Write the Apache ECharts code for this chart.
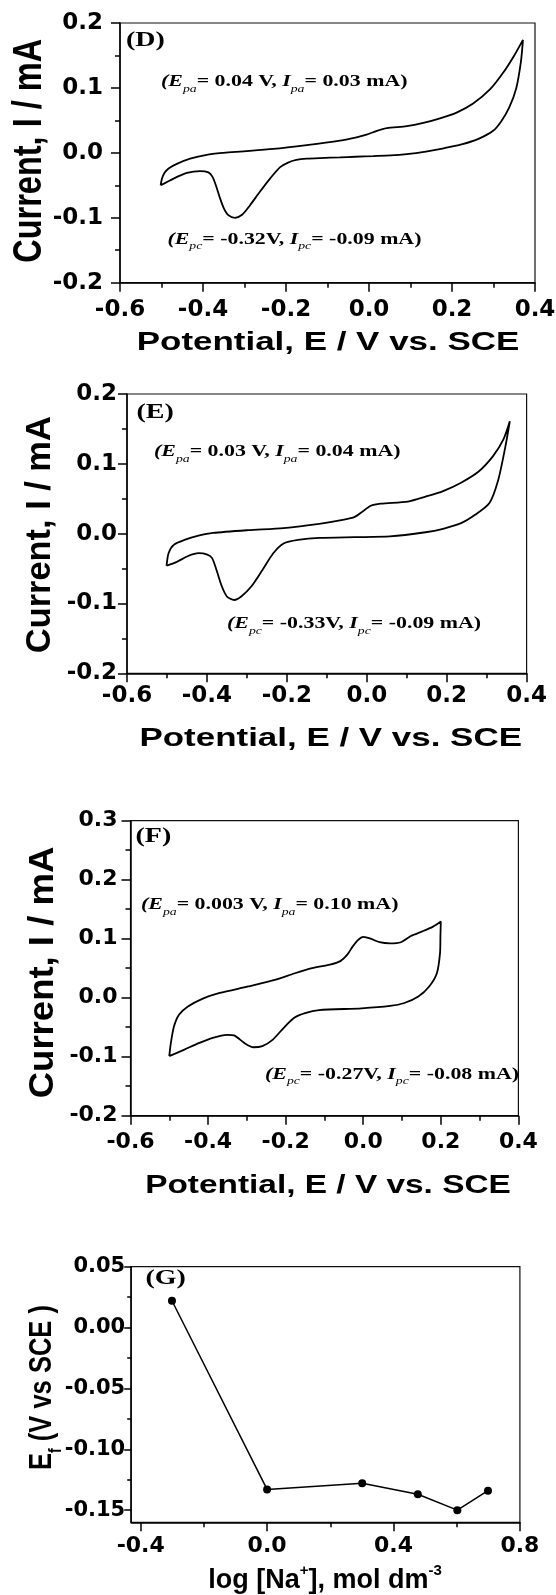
<!DOCTYPE html>
<html>
<head>
<meta charset="utf-8">
<script src="https://cdn.jsdelivr.net/npm/echarts@6/dist/echarts.min.js"></script>
<style>
  html, body { margin: 0; padding: 0; background: #fff; }
  #chart { width: 556px; height: 1595px; }
</style>
</head>
<body>
<div id="chart"></div>
<script>
// panel D: cyclic voltammogram, forward branch then return branch
var potD = [-0.502,-0.499,-0.493,-0.483,-0.463,-0.431,-0.391,-0.350,-0.311,-0.231,
            -0.150,-0.070,-0.030,-0.006,0.019,0.043,0.091,0.131,0.171,0.211,
            0.251,0.292,0.324,0.350,0.371,
            0.366,0.355,0.338,0.318,0.299,0.265,0.223,0.180,0.137,0.091,
            0.052,0.010,-0.033,-0.070,-0.118,-0.150,-0.175,-0.195,-0.214,-0.239,
            -0.263,-0.287,-0.305,-0.323,-0.339,-0.350,-0.360,-0.369,-0.377,-0.387,
            -0.407,-0.439,-0.472,-0.502];
var curD = [-0.050,-0.040,-0.031,-0.024,-0.017,-0.009,-0.003,0.000,0.002,0.006,
            0.012,0.019,0.024,0.028,0.034,0.038,0.041,0.046,0.053,0.062,
            0.076,0.098,0.124,0.150,0.174,
            0.140,0.100,0.070,0.048,0.034,0.022,0.013,0.007,0.002,-0.002,
            -0.004,-0.005,-0.006,-0.007,-0.008,-0.009,-0.011,-0.015,-0.022,-0.040,
            -0.060,-0.081,-0.095,-0.100,-0.096,-0.085,-0.068,-0.050,-0.037,-0.030,
            -0.028,-0.031,-0.040,-0.050];

// panel E
var potE = [-0.501,-0.496,-0.483,-0.456,-0.421,-0.385,-0.297,-0.208,-0.119,-0.057,
            -0.030,-0.012,0.010,0.035,0.103,0.147,0.191,0.236,0.280,0.316,
            0.342,0.358,
            0.347,0.329,0.307,0.271,0.236,0.191,0.147,0.058,-0.030,-0.119,
            -0.172,-0.208,-0.234,-0.261,-0.288,-0.314,-0.332,-0.350,-0.363,-0.376,
            -0.387,-0.399,-0.421,-0.447,-0.474,-0.501];
var curE = [-0.046,-0.028,-0.016,-0.009,-0.003,0.001,0.005,0.008,0.014,0.020,
            0.024,0.031,0.040,0.043,0.046,0.053,0.061,0.073,0.089,0.111,
            0.135,0.161,
            0.125,0.077,0.044,0.027,0.015,0.007,0.002,-0.004,-0.005,-0.006,
            -0.009,-0.014,-0.028,-0.052,-0.075,-0.090,-0.095,-0.090,-0.075,-0.052,
            -0.035,-0.030,-0.028,-0.032,-0.040,-0.046];

// panel F
var potF = [-0.500,-0.496,-0.488,-0.475,-0.452,-0.415,-0.370,-0.297,-0.223,-0.178,
            -0.132,-0.086,-0.059,-0.041,-0.027,-0.013,0.000,0.019,0.042,0.069,
            0.097,0.124,0.151,0.179,0.200,
            0.199,0.198,0.190,0.170,0.142,0.106,0.069,-0.004,-0.114,-0.150,-0.178,
            -0.205,-0.233,-0.260,-0.283,-0.306,-0.333,-0.351,-0.388,-0.424,-0.461,
            -0.500];
var curF = [-0.099,-0.077,-0.049,-0.029,-0.015,-0.002,0.008,0.019,0.031,0.041,
            0.050,0.056,0.062,0.073,0.087,0.098,0.103,0.100,0.094,0.092,
            0.094,0.105,0.112,0.120,0.129,
            0.105,0.076,0.042,0.019,0.002,-0.009,-0.014,-0.018,-0.021,-0.026,-0.034,
            -0.051,-0.071,-0.082,-0.084,-0.077,-0.064,-0.063,-0.068,-0.077,-0.088,
            -0.099];

// panel G: formal potential vs log [Na+]
var logNa = [-0.301, 0.000, 0.301, 0.477, 0.602, 0.699];
var potEf = [0.022, -0.133, -0.128, -0.137, -0.150, -0.134];

var gTickX = [-0.4, 0.0, 0.4, 0.8];
var gMinorX = [-0.2, 0.2, 0.6];
var gTickY = [-0.15, -0.10, -0.05, 0.00, 0.05];
var gMinorY = [-0.125, -0.075, -0.025, 0.025];

function pairs(xs, ys) {
    return xs.map(function (x, i) { return [x, ys[i]]; });
}
function fmt(d) {
    return function (v) {
        if (Math.abs(v) < 1e-9) v = 0;
        return v.toFixed(d);
    };
}

var black = '#000';
var labelFont = { fontFamily: 'DejaVu Sans', fontWeight: 'bold', color: black };

function cvX(grid, margin, size) {
    return {
        type: 'value', gridIndex: grid, position: 'bottom', min: -0.6, max: 0.4, interval: 0.2,
        axisLine: { show: true, onZero: false, lineStyle: { color: black, width: 1.5 } },
        axisTick: { show: true, length: 9, lineStyle: { color: black, width: 1.5 } },
        minorTick: { show: true, splitNumber: 2, length: 5, lineStyle: { color: black, width: 1.5 } },
        splitLine: { show: false },
        axisLabel: Object.assign({ fontSize: size, margin: margin, formatter: fmt(1), showMinLabel: true, showMaxLabel: true }, labelFont)
    };
}
function cvY(grid, max, margin, size) {
    return {
        type: 'value', gridIndex: grid, position: 'left', min: -0.2, max: max, interval: 0.1,
        axisLine: { show: true, onZero: false, lineStyle: { color: black, width: 1.5 } },
        axisTick: { show: true, length: 9, lineStyle: { color: black, width: 1.5 } },
        minorTick: { show: true, splitNumber: 2, length: 5, lineStyle: { color: black, width: 1.5 } },
        splitLine: { show: false },
        axisLabel: Object.assign({ fontSize: size, margin: margin, formatter: fmt(1), showMinLabel: true, showMaxLabel: true }, labelFont)
    };
}
function box(left, top, width, height) {
    return {
        left: left, top: top, width: width, height: height,
        show: true, borderColor: '#111', borderWidth: 1.2,
        containLabel: false, outerBoundsMode: 'none'
    };
}

// text helpers (the original figure is stretched sideways, hence the scales)
function sansText(text, x, y, size, sx, sy, rot) {
    return {
        type: 'text', x: x, y: y, rotation: rot || 0, scaleX: sx, scaleY: sy, silent: true,
        style: {
            text: text, fill: black, fontFamily: 'Liberation Sans', fontWeight: 'bold', fontSize: size,
            align: 'center', verticalAlign: 'middle'
        }
    };
}
function panelTag(text, x, y) {
    return {
        type: 'text', x: x, y: y, scaleX: 1.4, silent: true,
        style: {
            text: text, fill: black, fontFamily: 'Liberation Serif', fontWeight: 'bold', fontSize: 20,
            align: 'left', verticalAlign: 'middle'
        }
    };
}
var noteRich = {
    p: { fontFamily: 'Liberation Serif', fontWeight: 'bold', fontSize: 17.5, lineHeight: 26, color: black },
    i: { fontFamily: 'Liberation Serif', fontWeight: 'bold', fontStyle: 'italic', fontSize: 17.5, lineHeight: 26, color: black },
    s: { fontFamily: 'Liberation Serif', fontStyle: 'italic', fontSize: 11, lineHeight: 26, verticalAlign: 'bottom', color: black }
};
function note(sub, v1, v2, x, y) {
    return {
        type: 'text', x: x, y: y, scaleX: 1.25, silent: true,
        style: {
            text: '{i|(E}{s|' + sub + '}{p|= ' + v1 + ', }{i|I}{s|' + sub + '}{p|= ' + v2 + ')}',
            rich: noteRich, fill: black, align: 'left', verticalAlign: 'middle'
        }
    };
}

var chart = echarts.init(document.getElementById('chart'), null, { renderer: 'canvas' });

var option = {
    animation: false,
    backgroundColor: '#fff',
    grid: [
        box(120, 23, 415, 259.7),
        box(127, 394, 399.6, 279.3),
        box(130.5, 820.7, 387.9, 295),
        box(131.2, 1266.7, 388.7, 255.6)
    ],
    xAxis: [
        cvX(0, 16, 23),
        cvX(1, 11, 23),
        cvX(2, 16, 22),
        {
            type: 'value', gridIndex: 3, position: 'bottom', min: -0.43, max: 0.8,
            axisLine: { show: true, onZero: false, lineStyle: { color: black, width: 1.5 } },
            axisTick: { show: true, length: 9, customValues: gTickX, lineStyle: { color: black, width: 1.5 } },
            splitLine: { show: false },
            axisLabel: Object.assign({ fontSize: 22, margin: 13, customValues: gTickX, formatter: fmt(1) }, labelFont)
        },
        {
            // minor ticks of panel G, same scale as the main axis
            type: 'value', gridIndex: 3, position: 'bottom', offset: 0, min: -0.43, max: 0.8,
            axisLine: { show: false, onZero: false },
            axisTick: { show: true, length: 5, customValues: gMinorX, lineStyle: { color: black, width: 1.5 } },
            splitLine: { show: false },
            axisLabel: { show: false }
        }
    ],
    yAxis: [
        cvY(0, 0.2, 17, 23),
        cvY(1, 0.2, 10, 23),
        cvY(2, 0.3, 13, 22),
        {
            type: 'value', gridIndex: 3, position: 'left', min: -0.16, max: 0.05,
            axisLine: { show: true, onZero: false, lineStyle: { color: black, width: 1.5 } },
            axisTick: { show: true, length: 7, customValues: gTickY, lineStyle: { color: black, width: 1.5 } },
            splitLine: { show: false },
            axisLabel: Object.assign({ fontSize: 21, margin: 6, customValues: gTickY, formatter: fmt(2) }, labelFont)
        },
        {
            type: 'value', gridIndex: 3, position: 'left', offset: 0, min: -0.16, max: 0.05,
            axisLine: { show: false, onZero: false },
            axisTick: { show: true, length: 4, customValues: gMinorY, lineStyle: { color: black, width: 1.5 } },
            splitLine: { show: false },
            axisLabel: { show: false }
        }
    ],
    series: [
        {
            name: 'D', type: 'line', xAxisIndex: 0, yAxisIndex: 0, data: pairs(potD, curD),
            showSymbol: false, symbol: 'none', smooth: 0.25, lineStyle: { color: black, width: 1.8 }
        },
        {
            name: 'E', type: 'line', xAxisIndex: 1, yAxisIndex: 1, data: pairs(potE, curE),
            showSymbol: false, symbol: 'none', smooth: 0.25, lineStyle: { color: black, width: 1.8 }
        },
        {
            name: 'F', type: 'line', xAxisIndex: 2, yAxisIndex: 2, data: pairs(potF, curF),
            showSymbol: false, symbol: 'none', smooth: 0.25, lineStyle: { color: black, width: 1.8 }
        },
        {
            name: 'G', type: 'line', xAxisIndex: 3, yAxisIndex: 3, data: pairs(logNa, potEf),
            symbol: 'circle', symbolSize: 8, itemStyle: { color: black },
            lineStyle: { color: black, width: 1.5 }
        }
    ],
    graphic: {
        elements: [
            // axis titles
            sansText('Current, I / mA', 29.2, 150.8, 32.5, 1, 1.27, Math.PI / 2),
            sansText('Potential, E / V vs. SCE', 328, 342.8, 25.5, 1.37, 1),
            sansText('Current, I / mA', 41, 534.7, 34.4, 1, 1.0, Math.PI / 2),
            sansText('Potential, E / V vs. SCE', 330.7, 739.4, 25.5, 1.37, 1),
            sansText('Current, I / mA', 43.6, 972.5, 36.5, 1, 0.97, Math.PI / 2),
            sansText('Potential, E / V vs. SCE', 328, 1186, 25.5, 1.31, 1),
            {
                type: 'text', x: 42.6, y: 1387.5, rotation: Math.PI / 2, scaleY: 1.25, silent: true,
                style: {
                    text: '{m|E}{s|f}{m| (V vs SCE )}', fill: black, align: 'center', verticalAlign: 'middle',
                    rich: {
                        m: { fontFamily: 'Liberation Sans', fontWeight: 'bold', fontSize: 25.5, lineHeight: 36, color: black },
                        s: { fontFamily: 'Liberation Sans', fontWeight: 'bold', fontSize: 14, lineHeight: 36, verticalAlign: 'bottom', color: black }
                    }
                }
            },
            {
                type: 'text', x: 325, y: 1581, silent: true,
                style: {
                    text: '{m|log [Na}{u|+}{m|], mol dm}{u|-3}', fill: black, align: 'center', verticalAlign: 'middle',
                    rich: {
                        m: { fontFamily: 'Liberation Sans', fontWeight: 'bold', fontSize: 27, lineHeight: 36, color: black },
                        u: { fontFamily: 'Liberation Sans', fontWeight: 'bold', fontSize: 15, lineHeight: 36, verticalAlign: 'top', color: black }
                    }
                }
            },
            // panel tags
            panelTag('(D)', 126, 41),
            panelTag('(E)', 136.5, 413.3),
            panelTag('(F)', 135.5, 837),
            panelTag('(G)', 145.4, 1279),
            // peak annotations
            note('pa', '0.04 V', '0.03 mA', 161, 81.7),
            note('pc', '-0.32V', '-0.09 mA', 167.4, 239),
            note('pa', '0.03 V', '0.04 mA', 154, 451.3),
            note('pc', '-0.33V', '-0.09 mA', 227, 623.3),
            note('pa', '0.003 V', '0.10 mA', 141, 904.7),
            note('pc', '-0.27V', '-0.08 mA', 265, 1074)
        ]
    }
};

chart.setOption(option);
</script>
</body>
</html>
